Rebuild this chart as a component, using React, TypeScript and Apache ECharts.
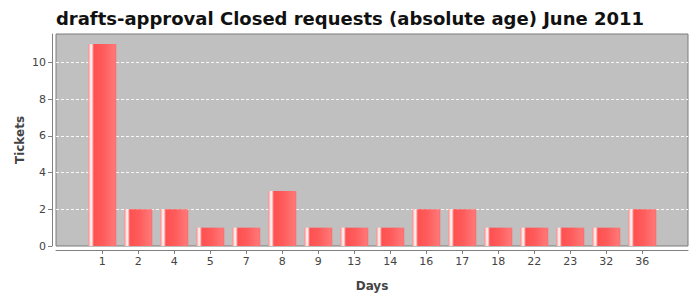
import React, { useEffect, useRef } from "react";
import * as echarts from "echarts";

const categories = ["1", "2", "4", "5", "7", "8", "9", "13", "14", "16", "17", "18", "22", "23", "32", "36"];
const tickets = [11, 2, 2, 1, 1, 3, 1, 1, 1, 2, 2, 1, 1, 1, 1, 2];
const yTicks = [0, 2, 4, 6, 8, 10];
const titleText = "drafts-approval Closed requests (absolute age) June 2011";

export default function App() {
  const ref = useRef<HTMLDivElement>(null);
  useEffect(() => {
    if (!ref.current) return;
    const chart = echarts.init(ref.current, undefined, { renderer: "svg" });
    const idx = categories.map((_, i) => i);
    const font = "DejaVu Sans";
    chart.setOption({
      animation: false,
      backgroundColor: "#ffffff",
      title: {
        text: titleText,
        left: "center",
        top: 4,
        textStyle: { fontFamily: font, fontWeight: "bold", fontSize: 18, color: "#111111" },
      },
      grid: {
        left: 56,
        right: 12,
        top: 34,
        bottom: 54,
        show: true,
        backgroundColor: "#c0c0c0",
        borderColor: "#7a7a7a",
        borderWidth: 1,
      },
      xAxis: {
        type: "value",
        min: -1.286,
        max: 16.27,
        offset: 4,
        name: "Days",
        nameLocation: "middle",
        nameGap: 30,
        nameMoveOverlap: false,
        nameTextStyle: { fontFamily: font, fontWeight: "bold", fontSize: 12, color: "#444444" },
        axisLine: { show: true, onZero: false, lineStyle: { color: "#808080", width: 1 } },
        axisTick: { show: true, length: 4, customValues: idx, lineStyle: { color: "#808080" } },
        axisLabel: {
          customValues: idx,
          margin: 6,
          fontFamily: font,
          fontSize: 11,
          color: "#444444",
          formatter: (v: number) => categories[Math.round(v)] ?? "",
        },
        splitLine: { show: false },
      },
      yAxis: {
        type: "value",
        min: 0,
        max: 11.55,
        offset: 4,
        name: "Tickets",
        nameLocation: "middle",
        nameGap: 26,
        nameMoveOverlap: false,
        nameTextStyle: { fontFamily: font, fontWeight: "bold", fontSize: 12, color: "#444444" },
        axisLine: { show: true, onZero: false, lineStyle: { color: "#808080", width: 1 } },
        axisTick: { show: true, length: 4, customValues: yTicks, lineStyle: { color: "#808080" } },
        axisLabel: {
          customValues: yTicks,
          margin: 6,
          fontFamily: font,
          fontSize: 11,
          color: "#444444",
        },
        splitLine: { show: false },
      },
      series: [
        {
          type: "bar",
          barWidth: 28,
          data: tickets.map((v, i) => [i, v]),
          markLine: {
            silent: true,
            symbol: "none",
            label: { show: false },
            lineStyle: { color: "#ffffff", type: [3, 2], width: 1, opacity: 0.9 },
            data: yTicks.filter((t) => t > 0).map((t) => ({ yAxis: t })),
            z: 1,
          },
          itemStyle: {
            color: new echarts.graphic.LinearGradient(0, 0, 1, 0, [
              { offset: 0, color: "#ff8c8c" },
              { offset: 0.06, color: "#ffc8c8" },
              { offset: 0.1, color: "#ffffff" },
              { offset: 0.14, color: "#ffd0d0" },
              { offset: 0.2, color: "#ff5050" },
              { offset: 0.55, color: "#ff5c5c" },
              { offset: 0.92, color: "#ff7676" },
              { offset: 1, color: "#ff6c6c" },
            ]),
          },
        },
      ],
    });
    return () => chart.dispose();
  }, []);
  return <div ref={ref} style={{ width: 700, height: 300, position: "absolute", left: 0, top: 0 }} />;
}
